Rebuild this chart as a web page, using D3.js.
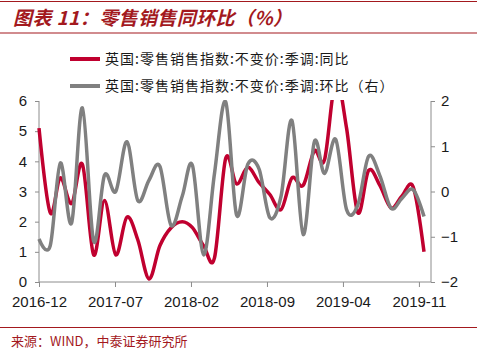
<!DOCTYPE html>
<html><head><meta charset="utf-8">
<script src="https://cdn.jsdelivr.net/npm/d3@7"></script>
<style>body{margin:0;background:#fff} svg{display:block}</style>
</head><body><svg id="c" width="481" height="355"></svg>
<script>
const months = ["2016-12","2017-01","2017-02","2017-03","2017-04","2017-05","2017-06","2017-07","2017-08","2017-09","2017-10","2017-11","2017-12",
  "2018-01","2018-02","2018-03","2018-04","2018-05","2018-06","2018-07","2018-08","2018-09","2018-10","2018-11","2018-12",
  "2019-01","2019-02","2019-03","2019-04","2019-05","2019-06","2019-07","2019-08","2019-09","2019-10","2019-11"];
const yoyValues = [5.1, 2.3, 3.45, 2.6, 3.9, 0.9, 2.7, 0.9, 2.15, 1.4, 0.1, 1.2, 1.8, 2.0, 1.8, 1.2, 0.8, 4.1, 3.25, 3.8, 3.3, 2.9, 2.4, 3.45, 3.2, 4.35, 4.05, 6.7, 5.1, 2.3, 3.7, 3.2, 2.45, 2.85, 3.15, 1.0];
const momValues = [-1.05, -1.2, 0.63, -0.7, 1.85, -1.1, 0.36, 0.0, 1.1, -0.2, 0.25, 0.56, -0.75, -0.1, 0.58, -1.4, 0.4, 1.98, -0.52, 0.6, 0.5, -0.58, -0.1, 1.57, -0.95, 1.1, 0.4, 1.15, -0.4, -0.3, 0.78, 0.35, -0.37, -0.15, 0.04, -0.55];
const leftTickValues = [0, 1, 2, 3, 4, 5, 6];
const rightTickValues = [-2, -1, 0, 1, 2];
const xTickDates = ["2016-12-31","2017-07-29","2018-02-24","2018-09-22","2019-04-20","2019-11-16"];
const seriesNames = ["英国:零售销售指数:不变价:季调:同比", "英国:零售销售指数:不变价:季调:环比（右）"];
const titleText = "图表 11：零售销售同环比（%）";
const sourceText = "来源：WIND，中泰证券研究所";

const RED = "#c0002f", GRAY = "#808080", DARKRED = "#a3191e", AXIS = "#8c8c8c";
const svg = d3.select("#c");
const parseDay = d3.utcParse("%Y-%m-%d");
const parseMonth = d3.utcParse("%Y-%m");
const monthEnd = m => d3.utcDay.offset(d3.utcMonth.offset(parseMonth(m), 1), -1);
const dates = months.map(monthEnd);

const x = d3.scaleUtc().domain([dates[0], dates[dates.length - 1]]).range([39, 424]);
const yL = d3.scaleLinear().domain([0, 6]).range([282, 101]);
const yR = d3.scaleLinear().domain([-2, 2]).range([282, 101]);

// Title and frame lines
svg.append("line").attr("x1", 0).attr("x2", 477).attr("y1", 1.5).attr("y2", 1.5).attr("stroke", DARKRED).attr("stroke-width", 1.2);
svg.append("text").attr("x", 13).attr("y", 25).text(titleText)
  .attr("font-family", "'Noto Sans CJK SC', sans-serif").attr("font-size", 19).attr("font-weight", "bold")
  .attr("font-style", "italic").attr("letter-spacing", 0.4).attr("fill", DARKRED);
svg.append("line").attr("x1", 0).attr("x2", 477).attr("y1", 33).attr("y2", 33).attr("stroke", DARKRED).attr("stroke-width", 1.2);
svg.append("line").attr("x1", 0).attr("x2", 477).attr("y1", 327.5).attr("y2", 327.5).attr("stroke", DARKRED).attr("stroke-width", 1.2);
svg.append("text").attr("x", 11).attr("y", 346).text(sourceText)
  .attr("font-family", "'Noto Sans CJK SC', sans-serif").attr("font-size", 13).attr("fill", DARKRED);

// Axes
const axisFont = "'Liberation Sans', Arial, sans-serif";
function styleAxis(g) {
  g.selectAll(".domain").remove();
  g.selectAll(".tick line").attr("stroke", AXIS);
  g.selectAll(".tick text").attr("font-family", axisFont).attr("font-size", 15).attr("fill", "#1a1a1a");
}
svg.append("g").attr("transform", "translate(0,282)")
  .call(d3.axisBottom(x).tickValues(xTickDates.map(parseDay)).tickFormat(d3.utcFormat("%Y-%m")).tickSize(5).tickSizeOuter(0).tickPadding(9))
  .call(styleAxis);
svg.append("g").attr("transform", "translate(39,0)")
  .call(d3.axisLeft(yL).tickValues(leftTickValues).tickFormat(d3.format("d")).tickSize(4).tickPadding(8))
  .call(styleAxis);
svg.append("g").attr("transform", "translate(431,0)")
  .call(d3.axisRight(yR).tickValues(rightTickValues).tickFormat(d3.format("d")).tickSize(4).tickPadding(6))
  .call(styleAxis);
svg.append("line").attr("x1", 39).attr("x2", 431).attr("y1", 282).attr("y2", 282).attr("stroke", AXIS);
svg.append("line").attr("x1", 39).attr("x2", 39).attr("y1", 101).attr("y2", 282).attr("stroke", AXIS);
svg.append("line").attr("x1", 431).attr("x2", 431).attr("y1", 101).attr("y2", 282).attr("stroke", AXIS);

// Clip
svg.append("clipPath").attr("id", "plot").append("rect").attr("x", 30).attr("y", 100).attr("width", 410).attr("height", 190);

const curve = d3.curveCardinal.tension(0);
const lineL = d3.line().x((d, i) => x(dates[i])).y(d => yL(d)).curve(curve);
const lineR = d3.line().x((d, i) => x(dates[i])).y(d => yR(d)).curve(curve);
const plot = svg.append("g").attr("clip-path", "url(#plot)");
plot.append("path").attr("d", lineL(yoyValues)).attr("fill", "none").attr("stroke", RED).attr("stroke-width", 3.5).attr("stroke-linejoin", "round");
plot.append("path").attr("d", lineR(momValues)).attr("fill", "none").attr("stroke", GRAY).attr("stroke-width", 3.5).attr("stroke-linejoin", "round");

// Legend
const legendColors = [RED, GRAY];
const legendY = [59, 86];
seriesNames.forEach((name, i) => {
  svg.append("line").attr("x1", 70).attr("x2", 100).attr("y1", legendY[i]).attr("y2", legendY[i])
    .attr("stroke", legendColors[i]).attr("stroke-width", 4);
  svg.append("text").attr("x", 105).attr("y", legendY[i]).attr("dy", "0.36em").text(name)
    .attr("font-family", "'Noto Sans CJK SC', sans-serif").attr("font-size", 14).attr("letter-spacing", 1)
    .attr("fill", "#1a1a1a");
});
</script></body></html>
